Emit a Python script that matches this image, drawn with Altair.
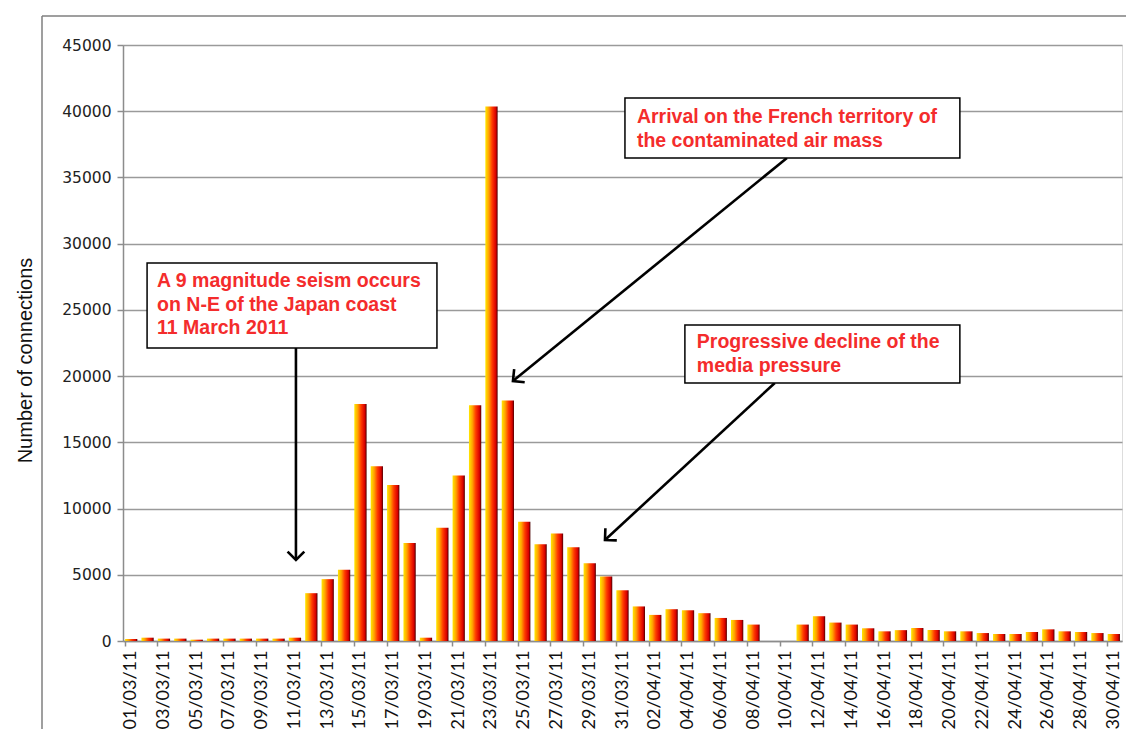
import altair as alt
import pandas as pd

# ---- data -------------------------------------------------------------
dates = [f"{d:02d}/03/11" for d in range(1, 32)] + [f"{d:02d}/04/11" for d in range(1, 31)]
connections = [
    150, 250, 180, 180, 100, 180, 180, 180, 180, 180,
    250, 3610, 4670, 5380, 17900, 13200, 11780, 7400, 250, 8550,
    12500, 17800, 40350, 18150, 9000, 7300, 8125, 7075, 5875, 4870,
    3830,
    2610, 1970, 2400, 2320, 2100, 1740, 1590, 1240, 0, 0,
    1240, 1870, 1390, 1240, 960, 730, 820, 980, 830, 730,
    730, 600, 530, 530, 680, 880, 730, 680, 600, 530,
]
y_ticks = list(range(0, 45001, 5000))
y_title = "Number of connections"

# annotation texts (x in day units from the left edge, y in connections)
note_text = [
    "A 9 magnitude seism occurs", "on N-E of the Japan coast", "11 March 2011",
    "Arrival on the French territory of", "the contaminated air mass",
    "Progressive decline of the", "media pressure",
]
note_x = [2.08, 2.08, 2.08, 31.38, 31.38, 35.04, 35.04]
note_y = [27182, 25370, 23633, 39565, 37753, 22576, 20764]

box_x1 = [1.47, 30.65, 34.31]
box_x2 = [19.17, 51.10, 51.10]
box_y1 = [22120, 36470, 19480]
box_y2 = [28540, 41000, 23860]

arrow_x1 = [10.56, 40.54, 39.80]
arrow_y1 = [22120, 36470, 19480]
arrow_x2 = [10.56, 23.81, 29.43]
arrow_y2 = [6116, 19631, 7626]
arrow_angle = [0, 51, 47]

df = pd.DataFrame({"date": dates, "connections": connections})
notes = pd.DataFrame({"x": note_x, "y": note_y, "t": note_text})
boxes = pd.DataFrame({"x": box_x1, "x2": box_x2, "y": box_y1, "y2": box_y2})
arrows = pd.DataFrame({"x": arrow_x1, "y": arrow_y1, "x2": arrow_x2, "y2": arrow_y2, "ang": arrow_angle})
one = pd.DataFrame({"a": [0]})

W, H = 999, 596
n = len(dates)
GRAY = "#8c8c8c"
RED = "#F42C2C"

yscale = alt.Scale(domain=[0, 45000], nice=False)
uscale = alt.Scale(domain=[0, n], nice=False, zero=False)

gradient = alt.LinearGradient(
    gradient="linear",
    x1=0, x2=1, y1=0, y2=0,
    stops=[
        alt.GradientStop(offset=0.0, color="#FFE800"),
        alt.GradientStop(offset=0.28, color="#FFA200"),
        alt.GradientStop(offset=0.55, color="#FF3A00"),
        alt.GradientStop(offset=0.85, color="#D80000"),
        alt.GradientStop(offset=1.0, color="#4a0000"),
    ],
)

bars = alt.Chart(df).mark_bar(color=gradient).encode(
    x=alt.X(
        "date:N",
        sort=dates,
        scale=alt.Scale(paddingInner=0.25, paddingOuter=0.125),
        axis=alt.Axis(
            title=None,
            values=dates[::2],
            labelAngle=-90,
            bandPosition=0,
            tickSize=5,
            tickColor=GRAY,
            tickWidth=1.5,
            domainColor=GRAY,
            domainWidth=1.5,
            labelFont="Lato",
            labelFontSize=18,
            labelColor="#111111",
            labelPadding=4,
            grid=False,
        ),
    ),
    y=alt.Y(
        "connections:Q",
        scale=yscale,
        title=y_title,
        axis=alt.Axis(
            values=y_ticks,
            format="d",
            grid=True,
            gridColor="#9a9a9a",
            gridWidth=1.5,
            tickSize=6,
            tickColor=GRAY,
            tickWidth=1.5,
            domainColor=GRAY,
            domainWidth=1.5,
            labelFont="DejaVu Sans",
            labelFontSize=15.5,
            labelColor="#222222",
            labelPadding=6,
            titleFont="Liberation Sans",
            titleFontSize=20,
            titleFontWeight="normal",
            titleColor="#111111",
            titleAngle=-90,
            titleX=-98,
            titleY=315,
            titleAlign="center",
            titleBaseline="middle",
        ),
    ),
)

arrow_lines = alt.Chart(arrows).mark_rule(color="black", strokeWidth=2.6).encode(
    x=alt.X("x:Q", scale=uscale, axis=None),
    x2="x2:Q",
    y=alt.Y("y:Q", scale=yscale, title=y_title),
    y2="y2:Q",
)

arrow_heads = alt.Chart(arrows).mark_point(
    shape="M -1 -1 L 0 0 L 1 -1", filled=False, color="black",
    strokeWidth=2.6, size=280, opacity=1,
).encode(
    x=alt.X("x2:Q", scale=uscale, axis=None),
    y=alt.Y("y2:Q", scale=yscale, title=y_title),
    angle=alt.Angle("ang:Q", scale=None),
)

box_rects = alt.Chart(boxes).mark_rect(fill="white", stroke="black", strokeWidth=1.5).encode(
    x=alt.X("x:Q", scale=uscale, axis=None),
    x2="x2:Q",
    y=alt.Y("y:Q", scale=yscale, title=y_title),
    y2="y2:Q",
)

note_marks = alt.Chart(notes).mark_text(
    align="left", baseline="middle", font="Liberation Sans",
    fontWeight="bold", fontSize=19.5, color=RED,
).encode(
    x=alt.X("x:Q", scale=uscale, axis=None),
    y=alt.Y("y:Q", scale=yscale, title=y_title),
    text="t:N",
)

frame_v = alt.Chart(one).mark_rule(color="#7f7f7f", strokeWidth=1.5).encode(
    x=alt.value(-81), y=alt.value(-29), y2=alt.value(H + 120)
)
frame_h = alt.Chart(one).mark_rule(color="#7f7f7f", strokeWidth=1.5).encode(
    x=alt.value(-81), x2=alt.value(W + 30), y=alt.value(-29)
)

chart = alt.layer(
    frame_v, frame_h, bars, arrow_lines, box_rects, note_marks, arrow_heads
).resolve_scale(x="independent").properties(
    width=W,
    height=H,
    autosize=alt.AutoSizeParams(type="none"),
    padding={"left": 115, "top": 37, "right": 4, "bottom": 88},
).configure_view(strokeWidth=0, stroke="transparent").configure(background="white")

chart.save("out.html", embed_options={"renderer": "svg", "actions": False})
